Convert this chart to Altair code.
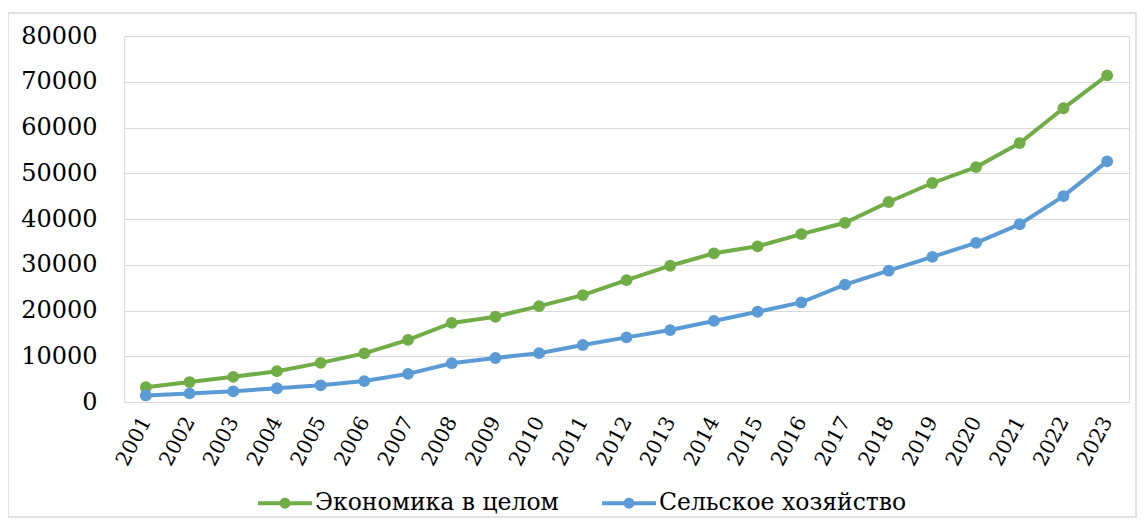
import altair as alt
import pandas as pd

years = [str(y) for y in range(2001, 2024)]
economy = [3240, 4360, 5500, 6740, 8550, 10630, 13590, 17290, 18640, 20950, 23370,
           26630, 29790, 32500, 34030, 36710, 39170, 43720, 47870, 51340, 56600, 64200, 71400]
agri = [1430, 1880, 2340, 3010, 3650, 4570, 6140, 8480, 9620, 10670, 12460,
        14130, 15720, 17720, 19720, 21760, 25670, 28700, 31730, 34770, 38850, 45000, 52600]
series_names = ["Экономика в целом", "Сельское хозяйство"]
series_colors = ["#70ad47", "#5b9bd5"]
y_ticks = list(range(0, 80001, 10000))

rows = []
for i, y in enumerate(years):
    rows.append({"year": y, "value": economy[i], "series": series_names[0]})
    rows.append({"year": y, "value": agri[i], "series": series_names[1]})
df = pd.DataFrame(rows)

FONT = "DejaVu Serif"

x_enc = alt.X("year:O", sort=years,
              scale=alt.Scale(type="point", padding=0.5),
              axis=alt.Axis(title=None, labelAngle=-62, labelAlign="right", labelBaseline="middle",
                            labelPadding=16, domain=False, ticks=False, grid=False,
                            labelFont=FONT, labelFontSize=20.5, labelColor="#000000"))
y_enc = alt.Y("value:Q", scale=alt.Scale(domain=[0, 80000], nice=False),
              axis=alt.Axis(title=None, values=y_ticks, format="d", domain=False, ticks=False,
                            labelFont=FONT, labelFontSize=24, labelColor="#000000",
                            labelPadding=27, gridColor="#d9d9d9", gridWidth=1))
color_scale = alt.Scale(domain=series_names, range=series_colors)

sym = ("M-1,-0.075L1,-0.075L1,0.075L-1,0.075Z "
       "M0.2,0A0.2,0.2 0 1,1 -0.2,0A0.2,0.2 0 1,1 0.2,0Z")

legend = alt.Legend(title=None, orient="none", direction="horizontal",
                    legendX=134, legendY=440,
                    symbolType=sym, symbolSize=2916, symbolStrokeWidth=0,
                    labelFont=FONT, labelFontSize=23.5, labelColor="#000000",
                    labelLimit=0, labelOffset=3, columnPadding=43)

base = alt.Chart(df)
lines = base.mark_line(strokeWidth=4).encode(
    x=x_enc, y=y_enc,
    color=alt.Color("series:N", scale=color_scale, legend=legend),
    detail="series:N",
)
points = base.mark_circle(size=140, opacity=1).encode(
    x=x_enc, y=y_enc,
    color=alt.Color("series:N", scale=color_scale, legend=legend),
)

border = alt.Chart(pd.DataFrame({"a": [0]})).mark_rect(
    filled=False, stroke="#d9d9d9", strokeWidth=1.5
).encode(x=alt.value(-116), x2=alt.value(1012), y=alt.value(-23), y2=alt.value(481))

chart = alt.layer(border, lines, points).properties(
    width=1005, height=366,
    autosize=alt.AutoSizeParams(type="none"),
    padding={"left": 116, "top": 28, "right": 8, "bottom": 116},
).configure_view(strokeWidth=0).configure(background="white")

chart.save("out.html", embed_options={"renderer": "svg", "actions": False})
